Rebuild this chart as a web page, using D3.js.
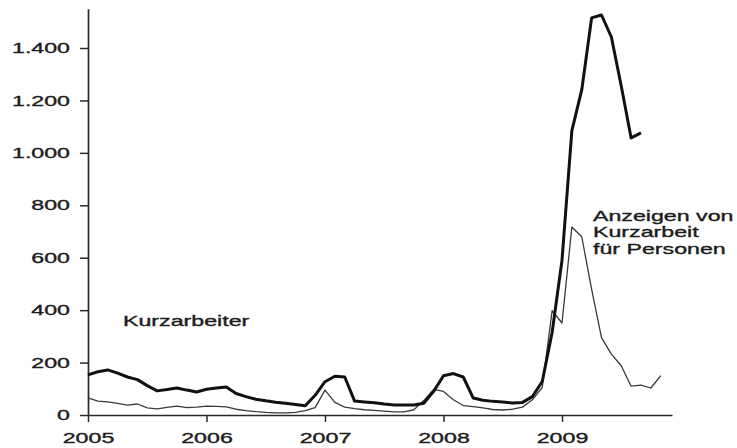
<!DOCTYPE html>
<html>
<head>
<meta charset="utf-8">
<script src="https://cdn.jsdelivr.net/npm/d3@7"></script>
<style>
  body { margin: 0; background: #fff; }
  svg text { font-family: "Liberation Sans", Arial, sans-serif; fill: #1c1c1c; stroke: #1c1c1c; stroke-width: 0.35px; }
</style>
</head>
<body>
<svg id="chart" width="737" height="448"></svg>
<script>
// monthly values, Jan 2005 onwards (in thousand persons)
let kurzarbeiter = [
  153, 165, 172, 160, 145, 135, 112, 92, 97, 103, 95, 88,      // 2005
  98, 103, 107, 82, 70, 60, 54, 49, 45, 40, 35, 75,            // 2006
  127, 148, 145, 53, 50, 47, 42, 38, 38, 38, 45, 90,           // 2007
  150, 158, 145, 65, 56, 52, 50, 46, 48, 70, 128, 315,         // 2008
  590, 1085, 1240, 1515, 1526, 1442, 1255, 1057, 1076          // 2009
]
let anzeigen = [
  65, 53, 50, 44, 38, 42, 27, 23, 29, 34, 28, 30,              // 2005
  34, 33, 31, 22, 17, 13, 10, 8, 8, 10, 17, 28,                // 2006
  95, 48, 30, 24, 20, 18, 15, 12, 12, 20, 55, 98,              // 2007
  90, 58, 36, 32, 27, 21, 19, 22, 30, 58, 105, 398,            // 2008
  351, 717, 680, 480, 295, 232, 188, 110, 114, 103, 150        // 2009
]
let years = ["2005", "2006", "2007", "2008", "2009"]
let yTicks = [0, 200, 400, 600, 800, 1000, 1200, 1400]

let stretch = 1.6,
    fontSize = 14.5

let de = d3.formatLocale({decimal: ",", thousands: ".", grouping: [3], currency: ["", " €"]})
let fmt = de.format(",")

let svg = d3.select("#chart")

let x = d3.scaleLinear().domain([0, 59.14]).range([88, 672])
let y = d3.scaleLinear().domain([0, 1550]).range([415, 8.7])

// axes
let yAxis = svg.append("g")
  .attr("transform", `translate(${x(0)},0)`)
  .call(d3.axisLeft(y).tickValues(yTicks).tickSize(8).tickSizeOuter(0).tickFormat(fmt))
let xAxis = svg.append("g")
  .attr("transform", `translate(0,${y(0)})`)
  .call(d3.axisBottom(x).tickValues(years.map((d, i) => i * 12)).tickSize(7).tickSizeOuter(0)
    .tickFormat((d, i) => years[i]))

for (let ax of [xAxis, yAxis]) {
  ax.select(".domain").attr("stroke", "#2a2a2a").attr("stroke-width", 1.7)
  ax.selectAll(".tick line").attr("stroke", "#2a2a2a").attr("stroke-width", 1.5)
  ax.selectAll("text").attr("font-size", fontSize).attr("fill", "#1c1c1c")
}
yAxis.selectAll(".tick text")
  .attr("x", -18 / stretch)
  .attr("transform", `scale(${stretch},1)`)
xAxis.selectAll(".tick text")
  .attr("y", 18)
  .attr("transform", `scale(${stretch},1)`)

// lines
let line = d3.line()
  .x((d, i) => x(i))
  .y(d => y(d))

svg.append("path")
  .datum(anzeigen)
  .attr("d", line)
  .attr("fill", "none")
  .attr("stroke", "#3a3a3a")
  .attr("stroke-width", 1.3)
  .attr("stroke-linejoin", "round")

svg.append("path")
  .datum(kurzarbeiter)
  .attr("d", line)
  .attr("fill", "none")
  .attr("stroke", "#111")
  .attr("stroke-width", 3)
  .attr("stroke-linejoin", "round")

// labels
function label(lines, px, py) {
  let t = svg.append("text")
    .attr("font-size", fontSize)
    .attr("transform", `translate(${px},${py}) scale(${stretch},1)`)
  lines.forEach((s, i) => {
    t.append("tspan").attr("x", 0).attr("y", i * 16.5).text(s)
  })
}
label(["Kurzarbeiter"], 123, 326)
label(["Anzeigen von", "Kurzarbeit", "für Personen"], 593, 221)
</script>
</body>
</html>
